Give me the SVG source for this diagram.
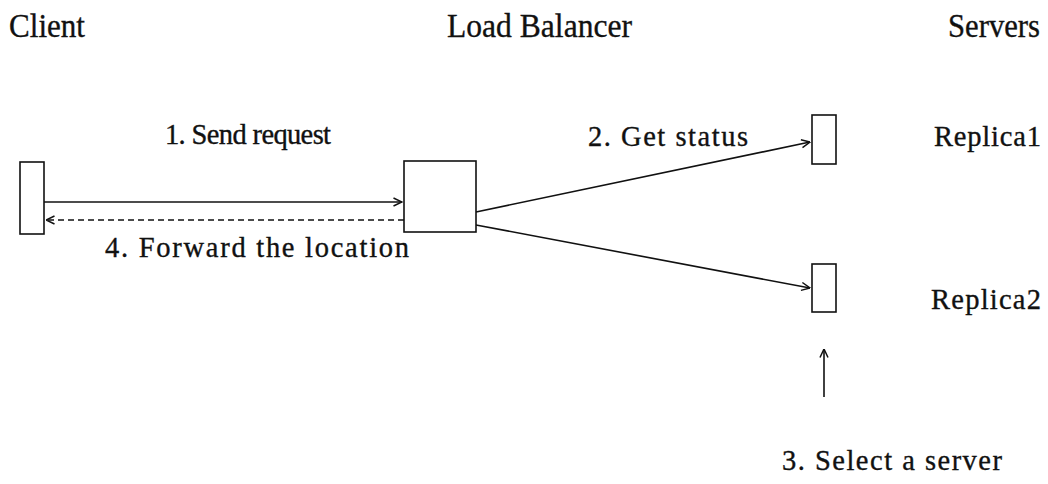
<svg xmlns="http://www.w3.org/2000/svg" width="1048" height="484" viewBox="0 0 1048 484">
  <style>
    .title { font-family: "Liberation Serif", "Times New Roman", serif; font-size: 34px; fill: #111; stroke: #111; stroke-width: 0.35; }
    .label { font-family: "Liberation Serif", "Times New Roman", serif; font-size: 28.5px; fill: #111; stroke: #111; stroke-width: 0.35; }
    .box { fill: #fff; stroke: #111; stroke-width: 1.6; }
    .link { fill: none; stroke: #111; stroke-width: 1.6; }
    .dashed { stroke-dasharray: 6 4; }
  </style>
  <defs>
    <marker id="arrow" viewBox="0 0 10 10" refX="9.5" refY="5" markerWidth="10" markerHeight="10" markerUnits="userSpaceOnUse" orient="auto">
      <path d="M1,1 L9.5,5 L1,9" fill="none" stroke="#111" stroke-width="1.5"/>
    </marker>
  </defs>
  <rect width="1048" height="484" fill="#fff"/>

  <!-- column headings -->
  <text class="title" x="9" y="37" textLength="76" lengthAdjust="spacingAndGlyphs">Client</text>
  <text class="title" x="447" y="37" textLength="185" lengthAdjust="spacingAndGlyphs">Load Balancer</text>
  <text class="title" x="948" y="37" textLength="92" lengthAdjust="spacingAndGlyphs">Servers</text>

  <!-- connectors -->
  <g id="connectors">
    <line class="link" x1="44" y1="202" x2="402" y2="202" marker-end="url(#arrow)"/>
    <line class="link dashed" x1="404" y1="220" x2="46" y2="220" marker-end="url(#arrow)"/>
    <line class="link" x1="476" y1="212" x2="810" y2="142" marker-end="url(#arrow)"/>
    <line class="link" x1="476" y1="225" x2="810" y2="288" marker-end="url(#arrow)"/>
    <line class="link" x1="824" y1="397" x2="824" y2="349" marker-end="url(#arrow)"/>
  </g>

  <!-- nodes -->
  <g id="client">
    <rect class="box" x="20" y="162" width="24" height="72"/>
  </g>
  <g id="load-balancer">
    <rect class="box" x="404" y="161" width="72" height="71"/>
  </g>
  <g id="replica1">
    <rect class="box" x="812" y="115" width="24" height="49"/>
    <text class="label" x="934" y="146" textLength="107" lengthAdjust="spacing">Replica1</text>
  </g>
  <g id="replica2">
    <rect class="box" x="812" y="264" width="24" height="48"/>
    <text class="label" x="931" y="309" textLength="110" lengthAdjust="spacing">Replica2</text>
  </g>

  <!-- step labels -->
  <text class="label" x="165" y="144" textLength="166" lengthAdjust="spacing">1. Send request</text>
  <text class="label" x="588" y="146" textLength="160" lengthAdjust="spacing">2. Get status</text>
  <text class="label" x="105" y="257" textLength="304" lengthAdjust="spacing">4.  Forward the location</text>
  <text class="label" x="782" y="470" textLength="220" lengthAdjust="spacing">3. Select a server</text>
</svg>
